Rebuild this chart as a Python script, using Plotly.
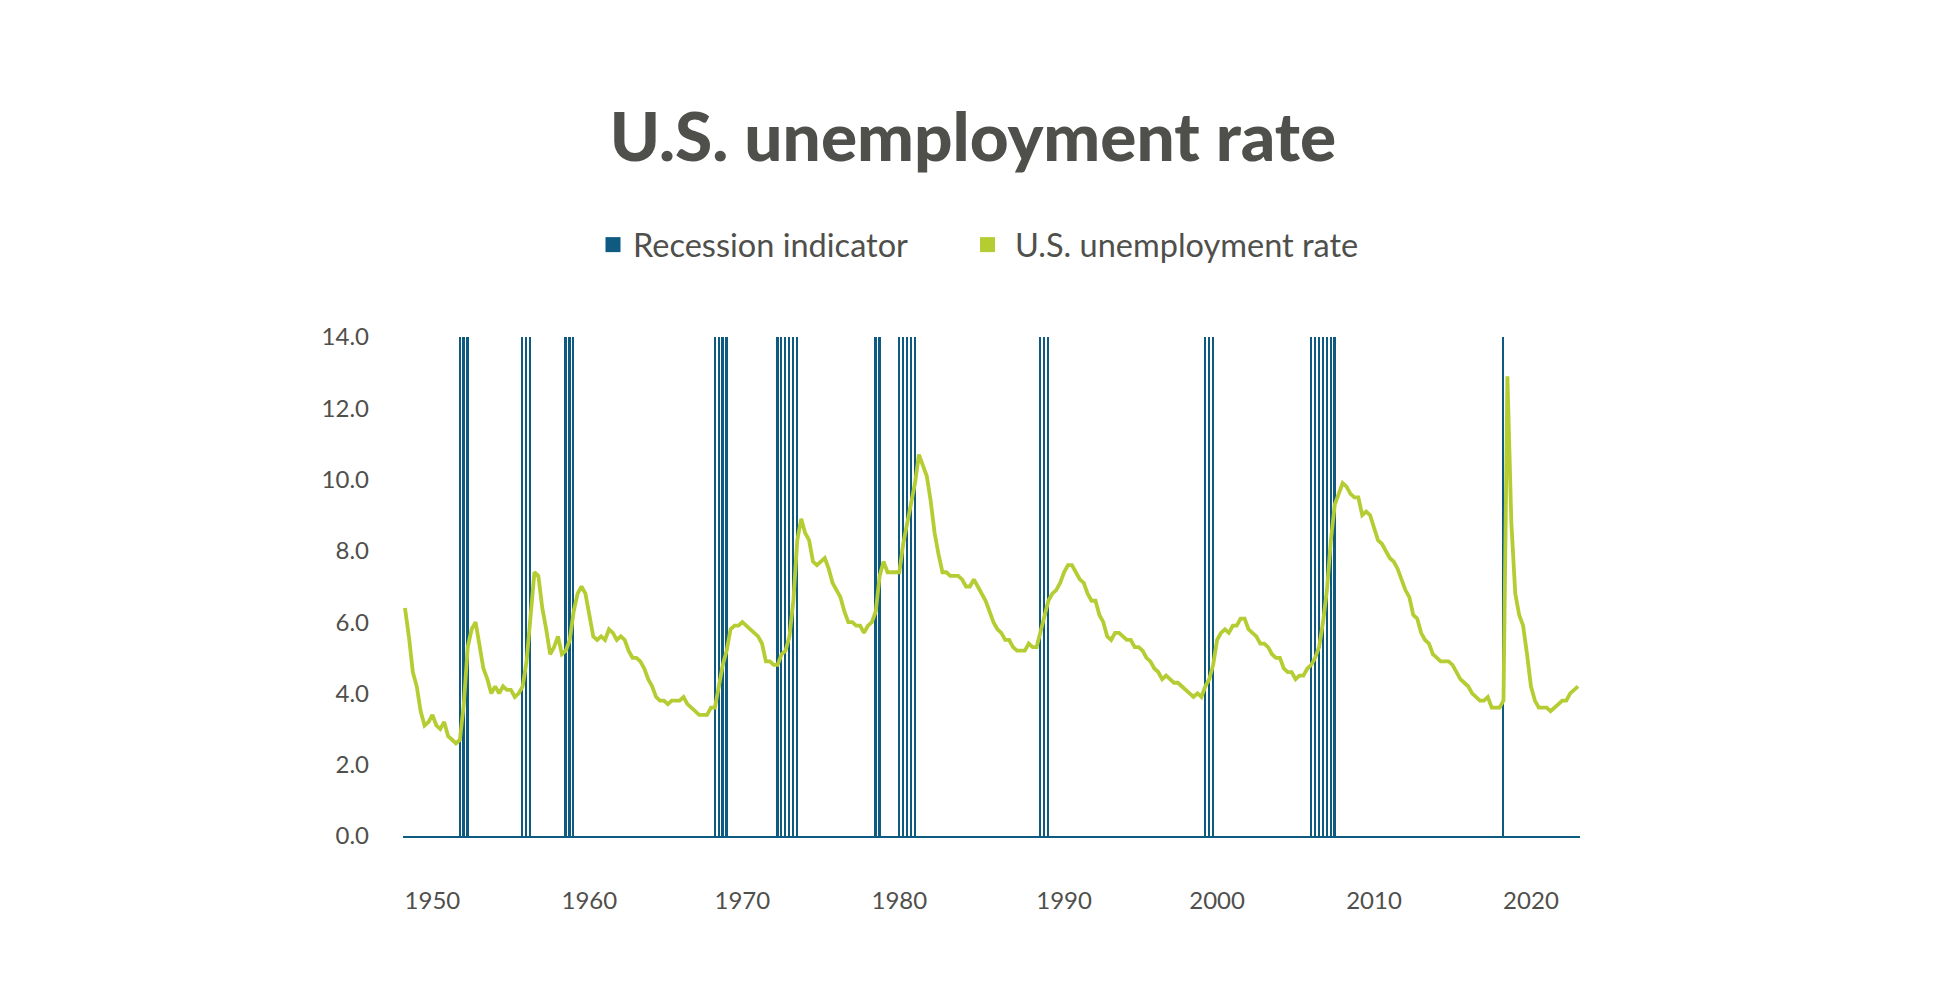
import plotly.graph_objects as go

# ---------------- data ----------------
years = list(range(1950, 2025))
quarters = [f"{y}Q{q}" for y in years for q in range(1, 5)]

unemployment_rate = [
    6.4, 5.6, 4.6, 4.2,   3.5, 3.1, 3.2, 3.4,   3.1, 3.0, 3.2, 2.8,   2.7, 2.6, 2.7, 3.7,   # 1950-53
    5.3, 5.8, 6.0, 5.3,   4.7, 4.4, 4.0, 4.2,   4.0, 4.2, 4.1, 4.1,   3.9, 4.0, 4.2, 4.9,   # 1954-57
    6.3, 7.4, 7.3, 6.4,   5.8, 5.1, 5.3, 5.6,   5.1, 5.2, 5.5, 6.3,   6.8, 7.0, 6.8, 6.2,   # 1958-61
    5.6, 5.5, 5.6, 5.5,   5.8, 5.7, 5.5, 5.6,   5.5, 5.2, 5.0, 5.0,   4.9, 4.7, 4.4, 4.2,   # 1962-65
    3.9, 3.8, 3.8, 3.7,   3.8, 3.8, 3.8, 3.9,   3.7, 3.6, 3.5, 3.4,   3.4, 3.4, 3.6, 3.6,   # 1966-69
    4.2, 4.8, 5.2, 5.8,   5.9, 5.9, 6.0, 5.9,   5.8, 5.7, 5.6, 5.4,   4.9, 4.9, 4.8, 4.8,   # 1970-73
    5.1, 5.2, 5.6, 6.6,   8.3, 8.9, 8.5, 8.3,   7.7, 7.6, 7.7, 7.8,   7.5, 7.1, 6.9, 6.7,   # 1974-77
    6.3, 6.0, 6.0, 5.9,   5.9, 5.7, 5.9, 6.0,   6.3, 7.3, 7.7, 7.4,   7.4, 7.4, 7.4, 8.2,   # 1978-81
    8.8, 9.4, 9.9, 10.7,  10.4, 10.1, 9.4, 8.5,  7.9, 7.4, 7.4, 7.3,   7.3, 7.3, 7.2, 7.0,  # 1982-85
    7.0, 7.2, 7.0, 6.8,   6.6, 6.3, 6.0, 5.8,   5.7, 5.5, 5.5, 5.3,   5.2, 5.2, 5.2, 5.4,   # 1986-89
    5.3, 5.3, 5.7, 6.1,   6.6, 6.8, 6.9, 7.1,   7.4, 7.6, 7.6, 7.4,   7.2, 7.1, 6.8, 6.6,   # 1990-93
    6.6, 6.2, 6.0, 5.6,   5.5, 5.7, 5.7, 5.6,   5.5, 5.5, 5.3, 5.3,   5.2, 5.0, 4.9, 4.7,   # 1994-97
    4.6, 4.4, 4.5, 4.4,   4.3, 4.3, 4.2, 4.1,   4.0, 3.9, 4.0, 3.9,   4.2, 4.4, 4.8, 5.5,   # 1998-01
    5.7, 5.8, 5.7, 5.9,   5.9, 6.1, 6.1, 5.8,   5.7, 5.6, 5.4, 5.4,   5.3, 5.1, 5.0, 5.0,   # 2002-05
    4.7, 4.6, 4.6, 4.4,   4.5, 4.5, 4.7, 4.8,   5.0, 5.3, 6.0, 6.9,   8.3, 9.3, 9.6, 9.9,   # 2006-09
    9.8, 9.6, 9.5, 9.5,   9.0, 9.1, 9.0, 8.6,   8.3, 8.2, 8.0, 7.8,   7.7, 7.5, 7.2, 6.9,   # 2010-13
    6.7, 6.2, 6.1, 5.7,   5.5, 5.4, 5.1, 5.0,   4.9, 4.9, 4.9, 4.8,   4.6, 4.4, 4.3, 4.2,   # 2014-17
    4.0, 3.9, 3.8, 3.8,   3.9, 3.6, 3.6, 3.6,   3.8, 12.9, 8.8, 6.8,  6.2, 5.9, 5.1, 4.2,   # 2018-21
    3.8, 3.6, 3.6, 3.6,   3.5, 3.6, 3.7, 3.8,   3.8, 4.0, 4.1, 4.2,                         # 2022-24
]

recession_quarters = [
    "1953Q3", "1953Q4", "1954Q1",
    "1957Q3", "1957Q4", "1958Q1",
    "1960Q2", "1960Q3", "1960Q4",
    "1969Q4", "1970Q1", "1970Q2", "1970Q3",
    "1973Q4", "1974Q1", "1974Q2", "1974Q3", "1974Q4", "1975Q1",
    "1980Q1", "1980Q2",
    "1981Q3", "1981Q4", "1982Q1", "1982Q2", "1982Q3",
    "1990Q3", "1990Q4", "1991Q1",
    "2001Q1", "2001Q2", "2001Q3",
    "2007Q4", "2008Q1", "2008Q2", "2008Q3", "2008Q4", "2009Q1", "2009Q2",
    "2020Q1",
]

tick_quarters = ["1951Q4", "1961Q4", "1971Q3", "1981Q3", "1992Q1", "2001Q4", "2011Q4", "2021Q4"]
tick_labels = ["1950", "1960", "1970", "1980", "1990", "2000", "2010", "2020"]

# ---------------- build ----------------
pos = {q: i for i, q in enumerate(quarters)}
x_idx = list(range(len(quarters)))
rec_set = set(recession_quarters)
recession_indicator = [1 if q in rec_set else 0 for q in quarters]

BLUE = "#0f5a80"
GREEN = "#b6cc33"
TEXT = "#4f4f4b"
FONT = "Lato"

fig = go.Figure()

fig.add_trace(go.Bar(
    x=x_idx, y=recession_indicator, width=0.42,
    marker=dict(color=BLUE, line=dict(width=0)),
    yaxis="y", showlegend=False, hoverinfo="skip",
))
fig.add_trace(go.Scatter(
    x=x_idx, y=unemployment_rate, mode="lines",
    line=dict(color=GREEN, width=3.8),
    yaxis="y2", showlegend=False,
))

# legend entries (square swatches)
fig.add_trace(go.Scatter(
    x=[None], y=[None], mode="markers", name="Recession indicator",
    marker=dict(symbol="square", size=15, color=BLUE), legend="legend",
))
fig.add_trace(go.Scatter(
    x=[None], y=[None], mode="markers", name="U.S. unemployment rate",
    marker=dict(symbol="square", size=15, color=GREEN), legend="legend2",
))

OFF = 8  # page body margin in the browser
W, H = 1952, 988
L, R, T, B = 403 - OFF, 372 + OFF, 337 - OFF, 152 + OFF
pw = W - L - R
ph = H - T - B


def px_x(p):
    return (p - OFF - L) / pw


def px_y(p):
    return (H - B - (p - OFF)) / ph


fig.update_layout(
    width=W, height=H,
    margin=dict(l=L, r=R, t=T, b=B, pad=0),
    paper_bgcolor="white", plot_bgcolor="white",
    font=dict(family=FONT, color=TEXT),
    bargap=0,
    title=dict(
        text="U.S. unemployment rate",
        font=dict(family=FONT, size=67.5, color=TEXT, weight=900),
        x=(973 - OFF) / W, xanchor="center", xref="container",
        y=1 - (137 - OFF) / H, yanchor="middle", yref="container",
    ),
    legend=dict(
        x=px_x(593), xanchor="left", y=px_y(245), yanchor="middle",
        orientation="h", font=dict(family=FONT, size=32.5, color=TEXT),
        bgcolor="rgba(0,0,0,0)", itemclick=False,
    ),
    legend2=dict(
        x=px_x(960), xanchor="left", y=px_y(245), yanchor="middle",
        orientation="h", font=dict(family=FONT, size=32.5, color=TEXT),
        bgcolor="rgba(0,0,0,0)", itemclick=False, itemwidth=45,
    ),
    xaxis=dict(
        range=[-0.5, len(quarters) - 0.5],
        tickvals=[pos[q] for q in tick_quarters], ticktext=tick_labels,
        showgrid=False, zeroline=False,
        showline=True, linecolor=BLUE, linewidth=1.5,
        ticks="", ticklabelstandoff=42,
        tickfont=dict(family=FONT, size=24, color=TEXT),
    ),
    yaxis=dict(range=[0, 1], visible=False, fixedrange=True),
    yaxis2=dict(
        range=[0, 14], dtick=2, tickformat=".1f", overlaying="y", side="left",
        showgrid=False, zeroline=False, showline=False, ticks="",
        ticklabelstandoff=33,
        tickfont=dict(family=FONT, size=24, color=TEXT),
    ),
)

fig.write_html("out.html")
